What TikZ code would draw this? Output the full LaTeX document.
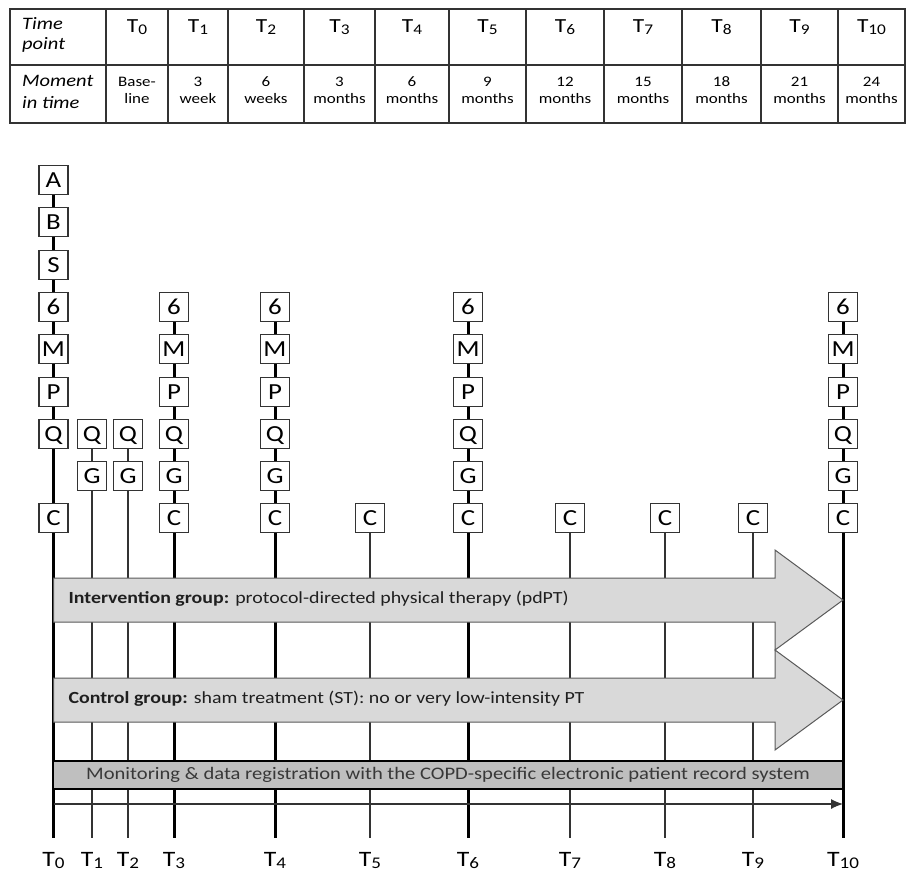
\documentclass[tikz,border=0pt]{standalone}
\usepackage{fontspec}
\setmainfont{Carlito}[FakeStretch=1.17]
\usetikzlibrary{arrows.meta,backgrounds}
% time point with a lowered, smaller index
\newcommand\tsub[1]{T\raisebox{-0.22ex}{\scalebox{0.74}{#1}}}
\definecolor{rulegray}{HTML}{333333}
\definecolor{arrowfill}{HTML}{D9D9D9}
\definecolor{arrowline}{HTML}{5A5A5A}
\definecolor{barfill}{HTML}{BFBFBF}
\definecolor{bartext}{HTML}{383838}
\tikzset{
  mbox/.style={draw=rulegray, fill=white, line width=1.3, minimum size=29, inner sep=0,
    text height=15, text depth=0, font=\fontsize{23}{24}\selectfont},
  thickrule/.style={line width=3, black},
  thinrule/.style={line width=1.8, rulegray},
  tabline/.style={line width=1.2, rulegray},
  tabfirst/.style={anchor=base west, inner sep=0, font=\fontsize{17.5}{20}\selectfont\itshape},
  tabhead/.style={anchor=base, inner sep=0, font=\fontsize{20}{22}\selectfont},
  tabcell/.style={anchor=base, inner sep=0, font=\fontsize{14.5}{17}\selectfont},
  bigarrow/.style={fill=arrowfill, draw=arrowline, line width=1},
  arrowtext/.style={anchor=west, text=black!88, font=\fontsize{17}{20}\selectfont},
  axislabel/.style={anchor=base, inner sep=0, font=\fontsize{22}{24}\selectfont}
}
\begin{document}
\begin{tikzpicture}[x=1pt,y=-1pt]
\useasboundingbox (0,0) rectangle (907,871);

% ---- schedule table ----
\draw[tabline] (10,9) rectangle (905,123);
\draw[tabline] (10,65) -- (905,65);
\foreach \cx in {106,168,228,304,375,449,526,604,682,761,838}
  \draw[tabline] (\cx,9) -- (\cx,123);
\node[tabfirst] (tp1) at (22,29) {Time};
\node[tabfirst] (tp2) at (22,49) {point};
\node[tabfirst] (mt1) at (22,86) {Moment};
\node[tabfirst] (mt2) at (22,108) {in time};
\foreach \i/\cx/\a/\b in {0/137/Base-/line, 1/198/3/week, 2/266/6/weeks,
    3/339.5/3/months, 4/412/6/months, 5/487.5/9/months, 6/565/12/months,
    7/643/15/months, 8/721.5/18/months, 9/799.5/21/months, 10/871.5/24/months}{
  \node[tabhead] (h\i) at (\cx,32) {\tsub{\i}};
  \node[tabcell] (ma\i) at (\cx,86) {\a};
  \node[tabcell] (mb\i) at (\cx,103) {\b};
}

% ---- measurement boxes per time point ----
\foreach \l/\y in {A/180,B/222,S/265,6/307,M/349,P/392,Q/434,C/518}
  \node[mbox] (b0-\l) at (53.5,\y) {\l};
\foreach \i/\x in {1/92,2/128}
  \foreach \l/\y in {Q/434,G/476}
    \node[mbox] (b\i-\l) at (\x,\y) {\l};
\foreach \i/\x in {3/174,4/275,6/468,10/843}
  \foreach \l/\y in {6/307,M/349,P/392,Q/434,G/476,C/518}
    \node[mbox] (b\i-\l) at (\x,\y) {\l};
\foreach \i/\x in {5/370,7/570,8/665,9/753}
  \node[mbox] (b\i-C) at (\x,518) {C};

% ---- axis ends and labels ----
\foreach \i/\x in {0/53.5,1/92,2/128,3/174,4/275,5/370,6/468,7/570,8/665,9/753,10/843}{
  \coordinate (e\i) at (\x,838);
  \node[axislabel] (lab\i) at (\x,866) {\tsub{\i}};
}

% ---- vertical time lines behind everything ----
\begin{scope}[on background layer]
  \draw[thickrule] (b0-A.center) -- (e0);
  \foreach \i in {3,4,6,10}
    \draw[thickrule] (b\i-6.center) -- (e\i);
  \foreach \i in {1,2}
    \draw[thinrule] (b\i-Q.center) -- (e\i);
  \foreach \i in {5,7,8,9}
    \draw[thinrule] (b\i-C.center) -- (e\i);
\end{scope}

% ---- treatment arms ----
\draw[bigarrow] (53.5,578) -- (775,578) -- (775,550) -- (843,600) -- (775,650)
  -- (775,622) -- (53.5,622) -- cycle;
\node[arrowtext] (intv) at (65,599)
  {\textbf{Intervention group:} protocol-directed physical therapy (pdPT)};
\draw[bigarrow] (53.5,678) -- (775,678) -- (775,650) -- (843,700) -- (775,750)
  -- (775,722) -- (53.5,722) -- cycle;
\node[arrowtext] (ctrl) at (65,699)
  {\textbf{Control group:} sham treatment (ST): no or very low-intensity PT};

% ---- monitoring bar and time axis ----
\node[draw=black, fill=barfill, line width=1.2, minimum width=789, minimum height=28,
  inner sep=0, text=bartext, font=\fontsize{17.6}{20}\selectfont] (mon) at (448,775)
  {Monitoring \& data registration with the COPD-specific electronic patient record system};
\coordinate (ax0) at (53.5,804);
\coordinate (ax1) at (843,804);
\draw[line width=1.1, rulegray, -{Latex[length=12,width=10]}] (ax0) -- (ax1);
\end{tikzpicture}
\end{document}
